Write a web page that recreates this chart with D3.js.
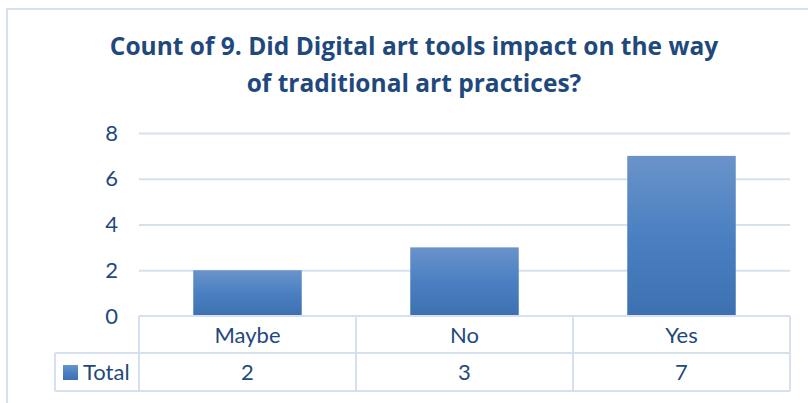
<!DOCTYPE html>
<html>
<head>
<meta charset="utf-8">
<script src="https://cdn.jsdelivr.net/npm/d3@7"></script>
<style>
  body { margin: 0; background: #fff; }
  svg { display: block; }
</style>
</head>
<body>
<div id="chart"></div>
<script>
// data
const categories = ["Maybe", "No", "Yes"];
const totals = [2, 3, 7];
const yTicks = [0, 2, 4, 6, 8];
const seriesName = "Total";
const titleLines = [
  "Count of 9. Did Digital art tools impact on the way",
  "of traditional art practices?"
];

const W = 808, H = 403;
const textColor = "#1F497D";
const lineColor = "#D6E1F0";
const font = "Lato, 'Open Sans', sans-serif";

const svg = d3.select("#chart").append("svg")
  .attr("width", W)
  .attr("height", H);

// bar gradient
const defs = svg.append("defs");
const grad = defs.append("linearGradient")
  .attr("id", "barGrad")
  .attr("x1", 0).attr("y1", 0).attr("x2", 0).attr("y2", 1);
grad.append("stop").attr("offset", "0%").attr("stop-color", "#6A93C9");
grad.append("stop").attr("offset", "50%").attr("stop-color", "#4A80C2");
grad.append("stop").attr("offset", "100%").attr("stop-color", "#3C70B1");

// outer chart border (runs off the right / bottom edge)
svg.append("rect")
  .attr("x", 7).attr("y", 9)
  .attr("width", W + 20).attr("height", H + 20)
  .attr("fill", "none")
  .attr("stroke", lineColor)
  .attr("stroke-width", 2);

// title
svg.append("text")
  .attr("x", 414)
  .attr("text-anchor", "middle")
  .attr("font-family", "'Open Sans', Lato, sans-serif")
  .attr("font-weight", "bold")
  .attr("font-size", 24.5)
  .attr("fill", textColor)
  .selectAll("tspan")
  .data(titleLines)
  .enter()
  .append("tspan")
  .attr("x", 414)
  .attr("y", (d, i) => 55 + i * 37)
  .text((d) => d);

// scales
const x = d3.scaleBand().domain(categories).range([139, 790]).padding(0);
const y = d3.scaleLinear().domain([0, 8]).range([316, 133]);

// gridlines
svg.append("g")
  .attr("transform", "translate(139,0)")
  .call(d3.axisLeft(y).tickValues(yTicks.slice(1)).tickSize(-(790 - 139)).tickFormat(""))
  .call((g) => g.select(".domain").remove())
  .selectAll("line")
  .attr("stroke", lineColor)
  .attr("stroke-width", 2);

// y tick labels
svg.append("g")
  .attr("transform", "translate(118,0)")
  .call(d3.axisLeft(y).tickValues(yTicks).tickSize(0).tickPadding(0))
  .call((g) => g.select(".domain").remove())
  .selectAll("text")
  .attr("font-family", font)
  .attr("font-size", 22)
  .attr("fill", textColor);

// bars
svg.selectAll(".bar")
  .data(totals)
  .enter()
  .append("rect")
  .attr("class", "bar")
  .attr("x", (d, i) => x(categories[i]) + x.bandwidth() * 0.25)
  .attr("width", x.bandwidth() * 0.5)
  .attr("y", (d) => y(d))
  .attr("height", (d) => y(0) - y(d))
  .attr("fill", "url(#barGrad)");

// data table under the chart
const rowTop = 316, rowMid = 353, rowBot = 391, legendLeft = 55;
const table = svg.append("g")
  .attr("stroke", lineColor)
  .attr("stroke-width", 2);

[rowTop, rowMid, rowBot].forEach(function (yy, i) {
  table.append("line")
    .attr("x1", i === 0 ? 139 : legendLeft).attr("x2", 790)
    .attr("y1", yy).attr("y2", yy);
});
categories.forEach(function (c) {
  table.append("line")
    .attr("x1", x(c)).attr("x2", x(c))
    .attr("y1", rowTop).attr("y2", rowBot);
});
table.append("line")
  .attr("x1", 790).attr("x2", 790)
  .attr("y1", rowTop).attr("y2", rowBot);
table.append("line")
  .attr("x1", legendLeft).attr("x2", legendLeft)
  .attr("y1", rowMid).attr("y2", rowBot);

// category labels
svg.selectAll(".cat")
  .data(categories)
  .enter()
  .append("text")
  .attr("class", "cat")
  .attr("x", (d) => x(d) + x.bandwidth() / 2)
  .attr("y", 343)
  .attr("text-anchor", "middle")
  .attr("font-family", font)
  .attr("font-size", 22)
  .attr("fill", textColor)
  .text((d) => d);

// values row
svg.selectAll(".val")
  .data(totals)
  .enter()
  .append("text")
  .attr("class", "val")
  .attr("x", (d, i) => x(categories[i]) + x.bandwidth() / 2)
  .attr("y", 380)
  .attr("text-anchor", "middle")
  .attr("font-family", font)
  .attr("font-size", 22)
  .attr("fill", textColor)
  .text((d) => d);

// legend key + series name
svg.append("rect")
  .attr("x", 63).attr("y", 365)
  .attr("width", 15).attr("height", 15)
  .attr("fill", "url(#barGrad)");
svg.append("text")
  .attr("x", 83).attr("y", 380)
  .attr("font-family", font)
  .attr("font-size", 22)
  .attr("fill", textColor)
  .text(seriesName);
</script>
</body>
</html>
